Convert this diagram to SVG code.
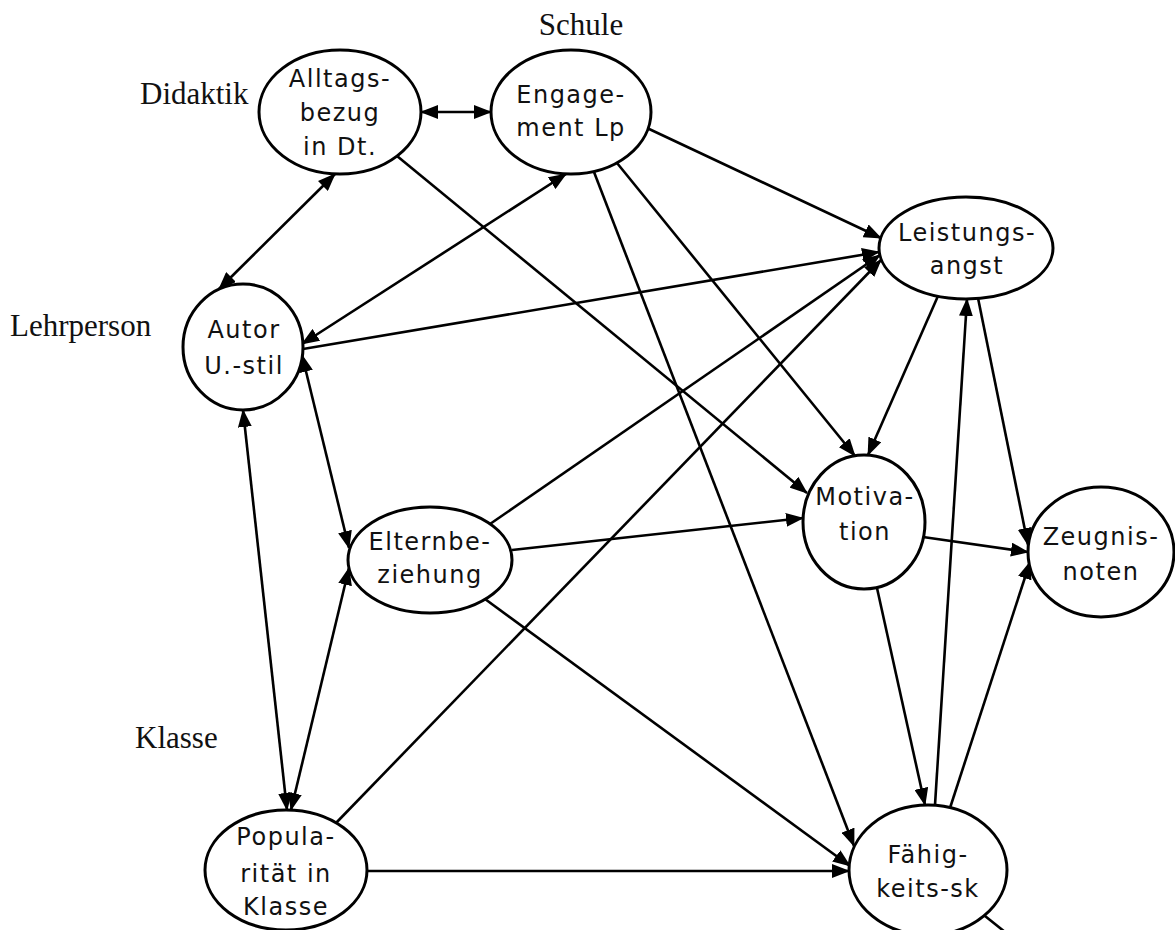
<svg xmlns="http://www.w3.org/2000/svg" width="1175" height="930" viewBox="0 0 1175 930">
<style>
.node ellipse{fill:#fff;stroke:#000;stroke-width:3}
.node text{font-family:"DejaVu Sans",Verdana,sans-serif;font-size:24px;letter-spacing:1.5px;text-anchor:middle;fill:#111}
.edges line{stroke:#000;stroke-width:2.6;fill:none}
.lbl{font-family:"Liberation Serif","Times New Roman",serif;font-size:31px;fill:#111}
</style>
<defs>
<marker id="ah" viewBox="0 0 18 14" refX="17" refY="7" markerWidth="18" markerHeight="14" markerUnits="userSpaceOnUse" orient="auto-start-reverse">
<path d="M0,0 L18,7 L0,14 z" fill="#000"/>
</marker>
</defs>
<rect width="1175" height="930" fill="#fff"/>
<g id="labels">
<text class="lbl" x="581" y="35" text-anchor="middle">Schule</text>
<text class="lbl" x="140" y="104">Didaktik</text>
<text class="lbl" x="10" y="336">Lehrperson</text>
<text class="lbl" x="135" y="748">Klasse</text>
</g>
<g class="edges" id="connectors">
<line x1="421" y1="112" x2="491" y2="112" marker-start="url(#ah)" marker-end="url(#ah)"/>
<line x1="335" y1="174" x2="219" y2="289" marker-start="url(#ah)" marker-end="url(#ah)"/>
<line x1="397" y1="156" x2="807" y2="493" marker-end="url(#ah)"/>
<line x1="566" y1="174" x2="302" y2="344" marker-start="url(#ah)" marker-end="url(#ah)"/>
<line x1="647" y1="128" x2="881" y2="238" marker-end="url(#ah)"/>
<line x1="594" y1="172" x2="854" y2="846" marker-end="url(#ah)"/>
<line x1="617" y1="163" x2="855" y2="456" marker-end="url(#ah)"/>
<line x1="303" y1="349" x2="879" y2="252" marker-end="url(#ah)"/>
<line x1="938" y1="296" x2="868" y2="455" marker-end="url(#ah)"/>
<line x1="978" y1="298" x2="1028" y2="545" marker-end="url(#ah)"/>
<line x1="935" y1="805" x2="967" y2="299" marker-end="url(#ah)"/>
<line x1="950" y1="808" x2="1030" y2="562" marker-end="url(#ah)"/>
<line x1="923" y1="537" x2="1028" y2="552" marker-end="url(#ah)"/>
<line x1="877" y1="588" x2="925" y2="805" marker-end="url(#ah)"/>
<line x1="302" y1="355" x2="349" y2="548" marker-start="url(#ah)" marker-end="url(#ah)"/>
<line x1="243" y1="410" x2="287" y2="810" marker-start="url(#ah)" marker-end="url(#ah)"/>
<line x1="349" y1="568" x2="291" y2="810" marker-start="url(#ah)" marker-end="url(#ah)"/>
<line x1="490" y1="524" x2="880" y2="255" marker-end="url(#ah)"/>
<line x1="512" y1="550" x2="803" y2="518" marker-end="url(#ah)"/>
<line x1="485" y1="599" x2="850" y2="866" marker-end="url(#ah)"/>
<line x1="336" y1="823" x2="881" y2="260" marker-end="url(#ah)"/>
<line x1="367" y1="871" x2="849" y2="871" marker-end="url(#ah)"/>
<line x1="985" y1="916" x2="1005" y2="932"/>
</g>
<g class="node" id="alltagsbezug">
<ellipse cx="340" cy="112" rx="81" ry="62"/>
<text x="340" y="87">Alltags-</text><text x="340" y="121">bezug</text><text x="340" y="155">in Dt.</text>
</g>
<g class="node" id="engagement">
<ellipse cx="571" cy="112" rx="80" ry="62"/>
<text x="571" y="103">Engage-</text><text x="571" y="136">ment Lp</text>
</g>
<g class="node" id="leistungsangst">
<ellipse cx="966" cy="248" rx="87" ry="51"/>
<text x="967" y="241">Leistungs-</text><text x="967" y="274">angst</text>
</g>
<g class="node" id="autor">
<ellipse cx="243" cy="347" rx="60" ry="63"/>
<text x="244" y="338">Autor</text><text x="244" y="374">U.-stil</text>
</g>
<g class="node" id="elternbeziehung">
<ellipse cx="430" cy="560" rx="82" ry="53"/>
<text x="430" y="550">Elternbe-</text><text x="430" y="583">ziehung</text>
</g>
<g class="node" id="motivation">
<ellipse cx="864" cy="522" rx="61" ry="67"/>
<text x="865" y="505">Motiva-</text><text x="865" y="540">tion</text>
</g>
<g class="node" id="zeugnisnoten">
<ellipse cx="1101" cy="552" rx="73" ry="65"/>
<text x="1101" y="545">Zeugnis-</text><text x="1101" y="580">noten</text>
</g>
<g class="node" id="popularitaet">
<ellipse cx="286" cy="870" rx="81" ry="60"/>
<text x="286" y="845">Popula-</text><text x="286" y="882">rität in</text><text x="286" y="915">Klasse</text>
</g>
<g class="node" id="faehigkeit">
<ellipse cx="928" cy="870" rx="79" ry="65"/>
<text x="928" y="863">Fähig-</text><text x="928" y="897">keits-sk</text>
</g>
</svg>
